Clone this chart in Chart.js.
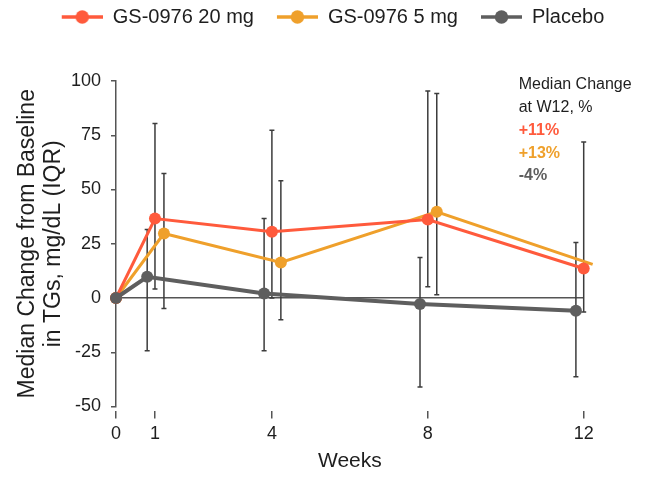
<!DOCTYPE html>
<html>
<head>
<meta charset="utf-8">
<script src="https://cdn.jsdelivr.net/npm/chart.js@4.4.1/dist/chart.umd.min.js"></script>
<style>
  body { margin: 0; background: #fff; }
  #chart { display: block; }
</style>
</head>
<body>
<canvas id="chart" width="650" height="479"></canvas>
<script>
// Data (median change, IQR whiskers)
const weeks = [0, 1, 4, 8, 12];
const yTicks = [-50, -25, 0, 25, 50, 75, 100];

const gs20Median = [0, 36.6, 30.5, 36.2, 13.6];
const gs20Q1 = [null, 4.1, 0, 5.2, -6.4];
const gs20Q3 = [null, 80.4, 77.3, 95.4, 71.9];

const gs5Median = [0, 29.7, 16.4, 39.7, 15.5];
const gs5Q1 = [null, -4.8, -10, 1.5, null];
const gs5Q3 = [null, 57.4, 54, 94.2, null];

const placeboMedian = [0, 9.8, 2.1, -2.8, -5.9];
const placeboQ1 = [null, -24.3, -24.3, -41, -36.3];
const placeboQ3 = [null, 31.6, 36.6, 18.7, 25.6];

const seriesNames = ['GS-0976 20 mg', 'GS-0976 5 mg', 'Placebo'];
const w12Change = ['+11%', '+13%', '-4%'];

const RED = '#FF5A3C';
const ORANGE = '#EFA02B';
const GREY = '#5E5E5E';
const FONT = "'Liberation Sans', Arial, sans-serif";

// small horizontal dodge so the whiskers don't sit on top of each other
const series = [
    { name: seriesNames[0], med: gs20Median, lo: gs20Q1, hi: gs20Q3, color: RED, dodge: 0, width: 3 },
    { name: seriesNames[1], med: gs5Median, lo: gs5Q1, hi: gs5Q3, color: ORANGE, dodge: 0.23, width: 3 },
    { name: seriesNames[2], med: placeboMedian, lo: placeboQ1, hi: placeboQ3, color: GREY, dodge: -0.2, width: 4 }
];

function xPos(s, i) {
    return weeks[i] === 0 ? 0 : weeks[i] + s.dodge;
}

// legend glyph: line with a dot, with some blank room on the left
function legendIcon(color) {
    const c = document.createElement('canvas');
    c.width = 57;
    c.height = 16;
    const g = c.getContext('2d');
    g.strokeStyle = color;
    g.lineWidth = 3.5;
    g.beginPath();
    g.moveTo(16, 8);
    g.lineTo(57, 8);
    g.stroke();
    g.fillStyle = color;
    g.beginPath();
    g.arc(36.5, 8, 6.7, 0, Math.PI * 2);
    g.fill();
    return c;
}
const legendIcons = series.map(s => legendIcon(s.color));

const errorBars = {
    id: 'errorBars',
    beforeDatasetsDraw(chart) {
        const { ctx, scales: { x, y } } = chart;
        ctx.save();
        ctx.strokeStyle = '#3c3c3c';
        ctx.lineWidth = 1.5;
        series.forEach(s => {
            weeks.forEach((w, i) => {
                if (s.lo[i] == null || s.hi[i] == null) return;
                const px = x.getPixelForValue(xPos(s, i));
                const yLo = y.getPixelForValue(s.lo[i]);
                const yHi = y.getPixelForValue(s.hi[i]);
                ctx.beginPath();
                ctx.moveTo(px, yLo);
                ctx.lineTo(px, yHi);
                ctx.moveTo(px - 2.5, yLo);
                ctx.lineTo(px + 2.5, yLo);
                ctx.moveTo(px - 2.5, yHi);
                ctx.lineTo(px + 2.5, yHi);
                ctx.stroke();
            });
        });
        ctx.restore();
    }
};

const w12Note = {
    id: 'w12Note',
    afterDraw(chart) {
        const { ctx, chartArea } = chart;
        const left = chartArea.right - 65;
        let top = chartArea.top + 4;
        ctx.save();
        ctx.textBaseline = 'middle';
        ctx.textAlign = 'left';
        ctx.font = '16px ' + FONT;
        ctx.fillStyle = '#1e1e1e';
        ctx.fillText('Median Change', left, top);
        ctx.fillText('at W12, %', left, top + 23);
        ctx.font = 'bold 16px ' + FONT;
        w12Change.forEach((t, i) => {
            ctx.fillStyle = series[i].color;
            ctx.fillText(t, left, top + 46 + i * 22.5);
        });
        ctx.restore();
    }
};

// keep a gap between the legend and the plot
const legendSpace = {
    id: 'legendSpace',
    beforeInit(chart) {
        const fit = chart.legend.fit;
        chart.legend.fit = function() {
            fit.call(this);
            this.height = 81;
        };
    }
};

new Chart(document.getElementById('chart'), {
    type: 'line',
    data: {
        datasets: series.map((s, k) => ({
            label: s.name,
            data: s.med.map((v, i) => ({ x: xPos(s, i), y: v })),
            borderColor: s.color,
            backgroundColor: s.color,
            borderWidth: s.width,
            pointRadius: k === 1 ? (c => c.dataIndex === weeks.length - 1 ? 0 : 6) : 6,
            pointBorderWidth: 0,
            pointStyle: 'circle',
            tension: 0,
            clip: false,
            order: k === 2 ? 0 : k + 1
        }))
    },
    options: {
        responsive: false,
        animation: false,
        layout: { padding: 0 },
        plugins: {
            tooltip: { enabled: false },
            legend: {
                position: 'top',
                labels: {
                    usePointStyle: true,
                    pointStyleWidth: 57,
                    padding: 7,
                    color: '#1e1e1e',
                    font: { family: FONT, size: 20 },
                    sort: (a, b) => a.datasetIndex - b.datasetIndex,
                    generateLabels(chart) {
                        const items = Chart.defaults.plugins.legend.labels.generateLabels(chart);
                        items.forEach(it => { it.pointStyle = legendIcons[it.datasetIndex]; });
                        return items;
                    }
                }
            }
        },
        scales: {
            x: {
                type: 'linear',
                min: 0,
                max: 12,
                afterBuildTicks: s => { s.ticks = weeks.map(v => ({ value: v })); },
                afterFit: s => { s.height = 72.5; },
                border: { display: true, color: 'rgba(0,0,0,0)', width: 8 },
                grid: { drawOnChartArea: false, tickLength: 12, tickColor: '#555', lineWidth: 1.5 },
                ticks: { color: '#1e1e1e', font: { family: FONT, size: 18 }, padding: 5, maxRotation: 0, autoSkip: false },
                title: {
                    display: true,
                    text: 'Weeks',
                    color: '#1e1e1e',
                    font: { family: FONT, size: 21 },
                    padding: { top: 0, bottom: 5 }
                }
            },
            y: {
                min: -50,
                max: 100,
                afterBuildTicks: s => { s.ticks = yTicks.map(v => ({ value: v })); },
                afterFit: s => { s.width = 116; },
                border: { display: true, color: '#555', width: 1.5 },
                grid: {
                    drawOnChartArea: true,
                    color: c => c.tick && c.tick.value === 0 ? '#555' : 'rgba(0,0,0,0)',
                    tickColor: '#555',
                    tickLength: 5,
                    lineWidth: 1.5
                },
                ticks: { color: '#1e1e1e', font: { family: FONT, size: 18 }, padding: 10 },
                title: {
                    display: true,
                    text: ['Median Change from Baseline', 'in TGs, mg/dL (IQR)'],
                    color: '#1e1e1e',
                    font: { family: FONT, size: 23, lineHeight: 1.13 },
                    padding: { top: 15, bottom: 0 }
                }
            },
            yRight: {
                position: 'right',
                display: true,
                afterFit: s => { s.width = 66.3; },
                grid: { display: false },
                border: { display: false },
                ticks: { display: false }
            }
        }
    },
    plugins: [legendSpace, errorBars, w12Note]
});
</script>
</body>
</html>
